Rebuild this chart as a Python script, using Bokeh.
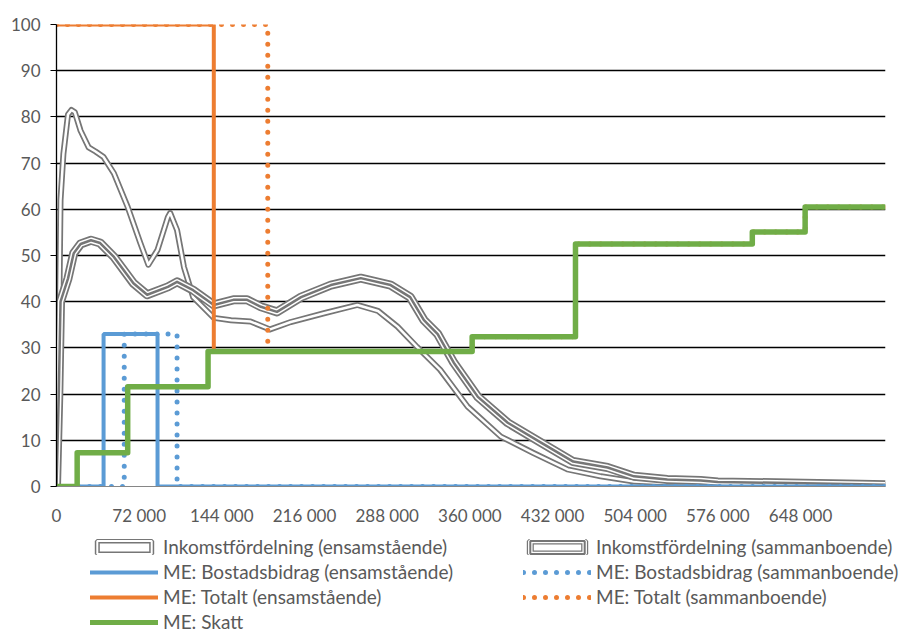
from bokeh.plotting import figure
from bokeh.models import Legend, LegendItem, Range1d, FixedTicker
from bokeh.embed import file_html
from bokeh.resources import INLINE

# inkomst i kronor
x_ticks = [0, 72000, 144000, 216000, 288000, 360000, 432000, 504000, 576000, 648000]
x_tick_labels = ["0", "72 000", "144 000", "216 000", "288 000", "360 000",
                 "432 000", "504 000", "576 000", "648 000"]

# inkomstfördelning (ensamstående)
ens_x = [0, 2000, 3500, 6000, 10000, 13000, 16000, 21000, 28000, 34000, 41000, 50000,
         62000, 73000, 80000, 88000, 97000, 99000, 105000, 111000, 119000, 137000,
         152000, 169000, 186000, 204000, 233000, 262000, 280000, 297000, 314000, 334000,
         358000, 387000, 415000, 445000, 474000, 503000, 526000, 576000, 700000, 722000]
ens_y = [0, 30, 62, 72, 80.5, 81.5, 81, 77, 73.4, 72.5, 71.3, 67.8,
         60.5, 52.7, 48, 51.2, 58.3, 59.2, 55.5, 47.5, 41, 36.5,
         36, 35.7, 34, 35.6, 37.5, 39.3, 38, 34.6, 30.2, 25.3,
         17.3, 10.8, 7.3, 3.7, 2.2, 1.1, 0.8, 0.6, 0.4, 0.3]

# inkomstfördelning (sammanboende)
sam_x = [0, 2000, 3500, 10000, 15000, 21000, 30000, 38000, 50000, 67000, 79000, 97000,
         105000, 119000, 137000, 154000, 166000, 178000, 192000, 213000, 239000, 265000,
         291000, 308000, 320000, 332000, 346000, 367000, 393000, 422000, 450000, 480000,
         503000, 532000, 561000, 576000, 700000, 722000]
sam_y = [0, 20, 40, 45, 50.5, 52.5, 53.3, 52.7, 49.7, 44, 41.5, 43.2,
         44.3, 42.5, 39.3, 40.4, 40.4, 38.9, 37.8, 41, 43.6, 45.1,
         43.6, 41, 36, 33, 26.8, 19.4, 13.8, 9.5, 5.4, 4.1,
         2.2, 1.5, 1.3, 1.0, 0.5, 0.4]

# marginaleffekter (steg)
bostad_ens_x = [0, 41000, 88000, 722000]
bostad_ens_y = [0, 33, 0, 0]
bostad_sam_x = [0, 59000, 105000, 722000]
bostad_sam_y = [0, 33, 0, 0]
totalt_ens_x = [0, 137000, 362000, 452000, 606000, 652000, 722000]
totalt_ens_y = [100, 29.2, 32.4, 52.5, 55.1, 60.5, 60.5]
totalt_sam_x = [0, 184000, 362000, 452000, 606000, 652000, 722000]
totalt_sam_y = [100, 29.2, 32.4, 52.5, 55.1, 60.5, 60.5]
skatt_x = [0, 18000, 62000, 132000, 362000, 452000, 606000, 652000, 722000]
skatt_y = [0, 7.3, 21.6, 29.2, 32.4, 52.5, 55.1, 60.5, 60.5]

labels = ["Inkomstfördelning (ensamstående)", "ME: Bostadsbidrag (ensamstående)",
          "ME: Totalt (ensamstående)", "ME: Skatt",
          "Inkomstfördelning (sammanboende)", "ME: Bostadsbidrag (sammanboende)",
          "ME: Totalt (sammanboende)"]

GRAY = "#767676"
BLUE = "#5B9BD5"
ORANGE = "#ED7D31"
GREEN = "#70AD47"
TXT = "#595959"
FONT = "Lato"
DOTS = "0 11"

p = figure(width=905, height=528, output_backend="svg", toolbar_location=None,
           x_range=Range1d(0, 722000), y_range=Range1d(0, 100),
           min_border_left=56, min_border_right=20, min_border_top=24,
           min_border_bottom=41)
p.outline_line_color = None
p.xgrid.grid_line_color = None
p.ygrid.grid_line_color = "black"
p.ygrid.grid_line_width = 1.3
p.ygrid.ticker = FixedTicker(ticks=list(range(0, 101, 10)))

p.yaxis.ticker = FixedTicker(ticks=list(range(0, 101, 10)))
p.yaxis.axis_line_color = "black"
p.yaxis.axis_line_width = 1.3
p.yaxis.major_tick_line_color = "black"
p.yaxis.major_tick_out = 6
p.yaxis.major_tick_in = 0
p.yaxis.minor_tick_line_color = None
p.yaxis.major_label_standoff = 10

p.xaxis.ticker = FixedTicker(ticks=x_ticks)
p.xaxis.major_label_overrides = {t: l for t, l in zip(x_ticks, x_tick_labels)}
p.xaxis.axis_line_color = "#868686"
p.xaxis.major_tick_line_color = None
p.xaxis.minor_tick_line_color = None
p.xaxis.major_label_standoff = 12

for ax in (p.xaxis, p.yaxis):
    ax.major_label_text_font = FONT
    ax.major_label_text_font_size = "17px"
    ax.major_label_text_color = TXT

# fördelningskurvor, dubbel- och trippellinje
p.line(ens_x, ens_y, line_color=GRAY, line_width=6, line_join="round")
p.line(ens_x, ens_y, line_color="white", line_width=2.5, line_join="round")
p.line(sam_x, sam_y, line_color=GRAY, line_width=9, line_join="round")
p.line(sam_x, sam_y, line_color="white", line_width=5.5, line_join="round")
p.line(sam_x, sam_y, line_color=GRAY, line_width=2.5, line_join="round")

p.step(bostad_ens_x, bostad_ens_y, mode="after", line_color=BLUE, line_width=4)
p.step(bostad_sam_x, bostad_sam_y, mode="after", line_color=BLUE, line_width=5,
       line_dash=DOTS, line_cap="round")
p.step(totalt_ens_x, totalt_ens_y, mode="after", line_color=ORANGE, line_width=4)
p.step(totalt_sam_x, totalt_sam_y, mode="after", line_color=ORANGE, line_width=5,
       line_dash=DOTS, line_cap="round")
p.step(skatt_x, skatt_y, mode="after", line_color=GREEN, line_width=5.5, line_join="round")

# legenden i en egen yta under diagrammet (serierna ligger utanför dess ytas intervall)
lg = figure(width=905, height=105, output_backend="svg", toolbar_location=None,
            x_range=Range1d(-2, -1), y_range=Range1d(-2, -1),
            x_axis_type=None, y_axis_type=None, min_border=0)
lg.outline_line_color = None
lg.grid.grid_line_color = None

q1 = lg.quad(left=ens_x[:-1], right=ens_x[1:], top=ens_y[1:], bottom=0,
             fill_color="white", line_color=GRAY, line_width=5)
q2 = lg.quad(left=ens_x[:-1], right=ens_x[1:], top=ens_y[1:], bottom=0,
             fill_alpha=0, line_color="white", line_width=2)
q3 = lg.quad(left=sam_x[:-1], right=sam_x[1:], top=sam_y[1:], bottom=0,
             fill_color="white", line_color=GRAY, line_width=7)
q4 = lg.quad(left=sam_x[:-1], right=sam_x[1:], top=sam_y[1:], bottom=0,
             fill_alpha=0, line_color="white", line_width=4.5)
q5 = lg.quad(left=sam_x[:-1], right=sam_x[1:], top=sam_y[1:], bottom=0,
             fill_alpha=0, line_color=GRAY, line_width=2)
l_bens = lg.line(bostad_ens_x, bostad_ens_y, line_color=BLUE, line_width=4,
                 line_cap="round")
l_bsam = lg.line(bostad_sam_x, bostad_sam_y, line_color=BLUE, line_width=5,
                 line_dash=DOTS, line_cap="round")
l_tens = lg.line(totalt_ens_x, totalt_ens_y, line_color=ORANGE, line_width=4,
                 line_cap="round")
l_tsam = lg.line(totalt_sam_x, totalt_sam_y, line_color=ORANGE, line_width=5,
                 line_dash=DOTS, line_cap="round")
l_skatt = lg.line(skatt_x, skatt_y, line_color=GREEN, line_width=5, line_cap="round")

swatches = [[q1, q2], [l_bens], [l_tens], [l_skatt], [q3, q4, q5], [l_bsam], [l_tsam]]
legend = Legend(items=[LegendItem(label=t, renderers=r) for t, r in zip(labels, swatches)],
                ncols=2, location=(90, 0))
legend.glyph_width = 68
legend.glyph_height = 16
legend.label_width = 358
legend.label_height = 16
legend.label_standoff = 5
legend.spacing = 2
legend.padding = 0
legend.margin = 0
legend.border_line_color = None
legend.background_fill_alpha = 0
legend.label_text_font = FONT
legend.label_text_font_size = "19px"
legend.label_text_line_height = 1.05
legend.label_text_color = TXT
lg.add_layout(legend, "center")

open("out.html", "w").write(file_html([p, lg], INLINE))
